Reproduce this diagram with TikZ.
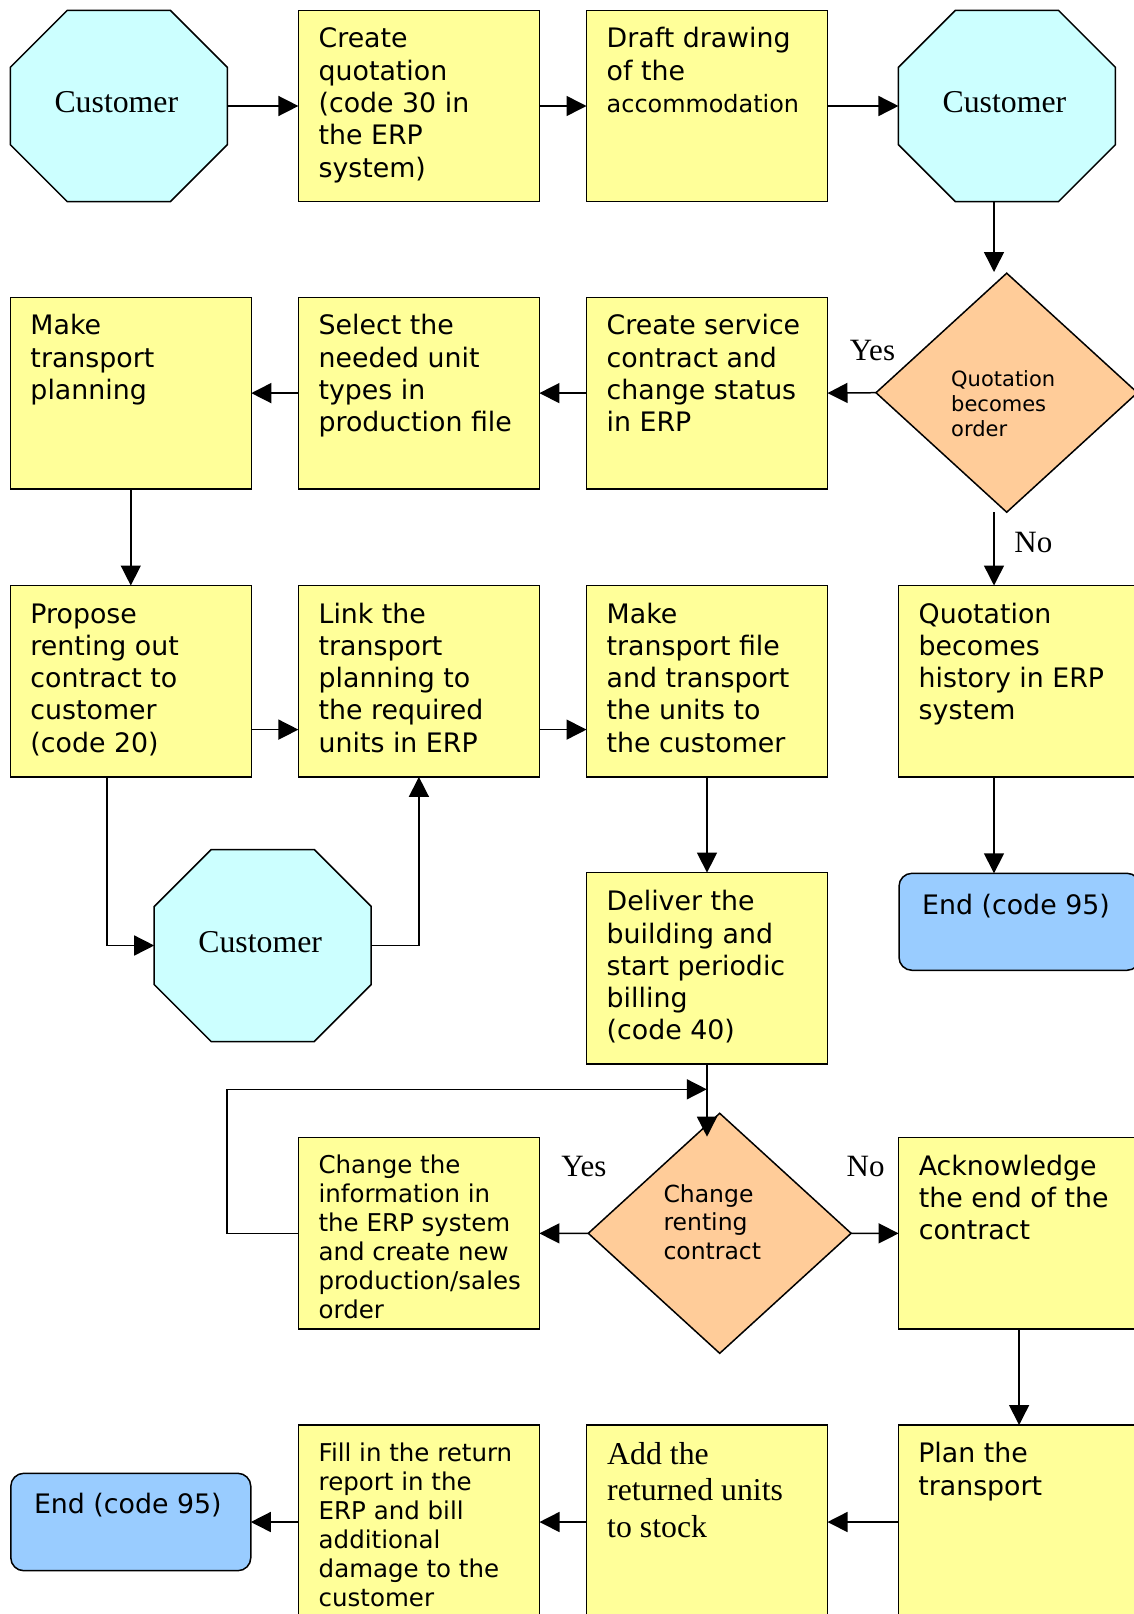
\documentclass[tikz,border=0pt]{standalone}
\usepackage{fontspec}
\setmainfont{DejaVu Sans}
\newfontfamily\tms{Liberation Serif}
\usetikzlibrary{arrows.meta,backgrounds}
\definecolor{byel}{HTML}{FFFF99}
\definecolor{bcyan}{HTML}{CCFFFF}
\definecolor{bora}{HTML}{FFCC99}
\definecolor{bblue}{HTML}{99CCFF}
\newcommand\myoct[1]{\draw[shapeline, fill=bcyan] ([xshift=57pt]#1.north west) -- ([xshift=-57pt]#1.north east) -- ([yshift=-57pt]#1.north east) -- ([yshift=57pt]#1.south east) -- ([xshift=-57pt]#1.south east) -- ([xshift=57pt]#1.south west) -- ([yshift=57pt]#1.south west) -- ([yshift=-57pt]#1.north west) -- cycle;}
\newcommand\mydia[1]{\draw[shapeline, fill=bora] (#1.north) -- (#1.east) -- (#1.south) -- (#1.west) -- cycle;}
\begin{document}
\begin{tikzpicture}[x=1pt,y=-1pt,
  box/.style={draw=black, fill=byel, line width=1.5pt, minimum width=241pt, minimum height=191.4pt, inner sep=0pt, outer sep=0pt, anchor=north west},
  endbox/.style={draw=black, fill=bblue, line width=1.5pt, rounded corners=13pt, minimum width=241pt, minimum height=97pt, inner sep=0pt, outer sep=0pt, anchor=north west},
  octnode/.style={minimum width=217pt, minimum height=191.4pt, inner sep=0pt, outer sep=0pt},
  dianode/.style={inner sep=0pt, outer sep=0pt},
  shapeline/.style={draw=black, line width=1.5pt},
  txt/.style={anchor=north west, inner sep=0pt, align=left, font=\fontsize{26.8}{32.3}\selectfont},
  stxt/.style={anchor=north west, inner sep=0pt, align=left, font=\fontsize{24.5}{29}\selectfont},
  cust/.style={anchor=base, inner sep=0pt, font=\tms\fontsize{31.8}{37}\selectfont},
  yn/.style={anchor=base, inner sep=0pt, font=\tms\fontsize{31}{37}\selectfont},
  arr/.style={line width=1.5pt, -{Triangle[length=20pt,width=20pt]}},
]
\useasboundingbox (0,0) rectangle (1134,1614);
\begin{pgfonlayer}{background}
\fill[white] (0,0) rectangle (1134,1614);
\end{pgfonlayer}
\clip (0,0) rectangle (1134,1614);

% row 1
\node[octnode] (C1) at (118.85,106) {};
\node[box] (Q) at (298.4,10.3) {};
\node[box] (Dr) at (586.5,10.3) {};
\node[octnode] (C2) at (1006.95,106) {};
% row 2
\node[box] (MTP) at (10.3,297.4) {};
\node[box] (Sel) at (298.4,297.4) {};
\node[box] (CS) at (586.5,297.4) {};
\node[dianode, minimum width=261.4pt, minimum height=239pt] (D1) at (1006.7,392.7) {};
% row 3
\node[box] (Prop) at (10.3,585.5) {};
\node[box] (Link) at (298.4,585.5) {};
\node[box] (MTF) at (586.5,585.5) {};
\node[box] (QH) at (898.5,585.5) {};
% row 4
\node[octnode, minimum height=192pt] (C3) at (262.7,945.5) {};
\node[box] (Del) at (586.5,872.6) {};
\node[endbox] (E1) at (899,873.3) {};
% row 5
\node[box] (CI) at (298.4,1137.7) {};
\node[dianode, minimum width=262.8pt, minimum height=240pt] (D2) at (719.7,1233.3) {};
\node[box] (Ack) at (898.6,1137.7) {};
% row 7
\node[endbox, minimum width=240pt, minimum height=97.4pt] (E2) at (10.8,1473.3) {};
\node[box] (Fill) at (298.5,1425) {};
\node[box] (Add) at (586.5,1425) {};
\node[box] (Plan) at (898.6,1425) {};

\begin{pgfonlayer}{background}
\myoct{C1}
\myoct{C2}
\myoct{C3}
\mydia{D1}
\mydia{D2}
\end{pgfonlayer}

% texts
\node[cust] (C1t) at ([xshift=-2.5pt,yshift=-6pt]C1.center) {Customer};
\node[cust] (C2t) at ([xshift=-2.5pt,yshift=-6pt]C2.center) {Customer};
\node[cust] (C3t) at ([xshift=-2.5pt,yshift=-6.5pt]C3.center) {Customer};
\node[txt] (Qt) at ([xshift=20pt,yshift=-14.7pt]Q.north west) {\strut Create\\quotation\\(code 30 in\\the ERP\\system)};
\node[txt] (Drt) at ([xshift=20pt,yshift=-14.7pt]Dr.north west) {\strut Draft drawing\\of the\\{\fontsize{23.9}{31}\selectfont accommodation}};
\node[txt] (MTPt) at ([xshift=20pt,yshift=-14.7pt]MTP.north west) {\strut Make\\transport\\planning};
\node[txt] (Selt) at ([xshift=20pt,yshift=-14.7pt]Sel.north west) {\strut Select the\\needed unit\\types in\\production file};
\node[txt] (CSt) at ([xshift=20pt,yshift=-14.7pt]CS.north west) {\strut Create service\\contract and\\change status\\in ERP};
\node[anchor=north west, inner sep=0pt, align=left, font=\fontsize{21}{25.3}\selectfont] (D1t) at (951,368.3) {\strut Quotation\\becomes\\order};
\node[txt] (Propt) at ([xshift=20pt,yshift=-14.7pt]Prop.north west) {\strut Propose\\renting out\\contract to\\customer\\(code 20)};
\node[txt] (Linkt) at ([xshift=20pt,yshift=-14.7pt]Link.north west) {\strut Link the\\transport\\planning to\\the required\\units in ERP};
\node[txt] (MTFt) at ([xshift=20pt,yshift=-14.7pt]MTF.north west) {\strut Make\\transport file\\and transport\\the units to\\the customer};
\node[txt] (QHt) at ([xshift=20pt,yshift=-14.7pt]QH.north west) {\strut Quotation\\becomes\\history in ERP\\system};
\node[txt] (Delt) at ([xshift=20pt,yshift=-15.3pt]Del.north west) {\strut Deliver the\\building and\\start periodic\\billing\\(code 40)};
\node[txt] (E1t) at ([xshift=23pt,yshift=-17.9pt]E1.north west) {\strut End (code 95)};
\node[stxt] (CIt) at ([xshift=20pt,yshift=-15.4pt]CI.north west) {\strut Change the\\information in\\the ERP system\\and create new\\production/sales\\order};
\node[anchor=north west, inner sep=0pt, align=left, font=\fontsize{23.5}{28.8}\selectfont] (D2t) at (663.3,1181.8) {\strut Change\\renting\\contract};
\node[txt] (Ackt) at ([xshift=20pt,yshift=-14.7pt]Ack.north west) {\strut Acknowledge\\the end of the\\contract};
\node[txt] (E2t) at ([xshift=23pt,yshift=-17.4pt]E2.north west) {\strut End (code 95)};
\node[stxt] (Fillt) at ([xshift=20pt,yshift=-15.6pt]Fill.north west) {\strut Fill in the return\\report in the\\ERP and bill\\additional\\damage to the\\customer};
\node[anchor=north west, inner sep=0pt, align=left, font=\tms\fontsize{31.8}{36.8}\selectfont] (Addt) at ([xshift=20.5pt,yshift=-13.2pt]Add.north west) {\strut Add the\\returned units\\to stock};
\node[txt] (Plant) at ([xshift=19.5pt,yshift=-14.9pt]Plan.north west) {\strut Plan the\\transport};

% labels
\node[yn] (yes1) at (872.5,360) {Yes};
\node[yn] (no1) at (1033.3,552.7) {No};
\node[yn] (yes2) at (584,1176) {Yes};
\node[yn] (no2) at (865.6,1176) {No};

% connectors
\coordinate (c2d) at (994,272);
\coordinate (d2in) at (707,1136.7);
\coordinate (loopend) at (706.8,1089.3);
\draw[arr] (C1.east) -- (Q.west);
\draw[arr] (Q.east) -- (Dr.west);
\draw[arr] (Dr.east) -- (C2.west);
\draw[arr] (C2.south -| c2d) -- (c2d);
\draw[arr] (D1.west) -- (CS.east);
\draw[arr] (CS.west) -- (Sel.east);
\draw[arr] (Sel.west) -- (MTP.east);
\draw[arr] (MTP.south) -- (Prop.north);
\draw[arr] (D1.south -| c2d) -- (QH.north -| c2d);
\draw[arr] ([yshift=-48.4pt]Prop.east) -- ([yshift=-48.4pt]Link.west);
\draw[arr] ([yshift=-48.4pt]Link.east) -- ([yshift=-48.4pt]MTF.west);
\draw[arr] ([xshift=-23.7pt]Prop.south) |- (C3.west);
\draw[arr] (C3.east) -| (Link.south);
\draw[arr] (MTF.south) -- (Del.north);
\draw[arr] (QH.south -| c2d) -- (E1.north -| c2d);
\draw[arr] (Del.south) -- (d2in);
\draw[arr] (D2.west) -- (CI.east);
\draw[arr] (D2.east) -- (Ack.west);
\draw[arr] (CI.west) -- ++(-71.5,0) |- (loopend);
\draw[arr] (Ack.south) -- (Plan.north);
\draw[arr] (Plan.west |- E2.east) -- (Add.east |- E2.east);
\draw[arr] (Add.west |- E2.east) -- (Fill.east |- E2.east);
\draw[arr] (Fill.west |- E2.east) -- (E2.east);
\end{tikzpicture}
\end{document}
